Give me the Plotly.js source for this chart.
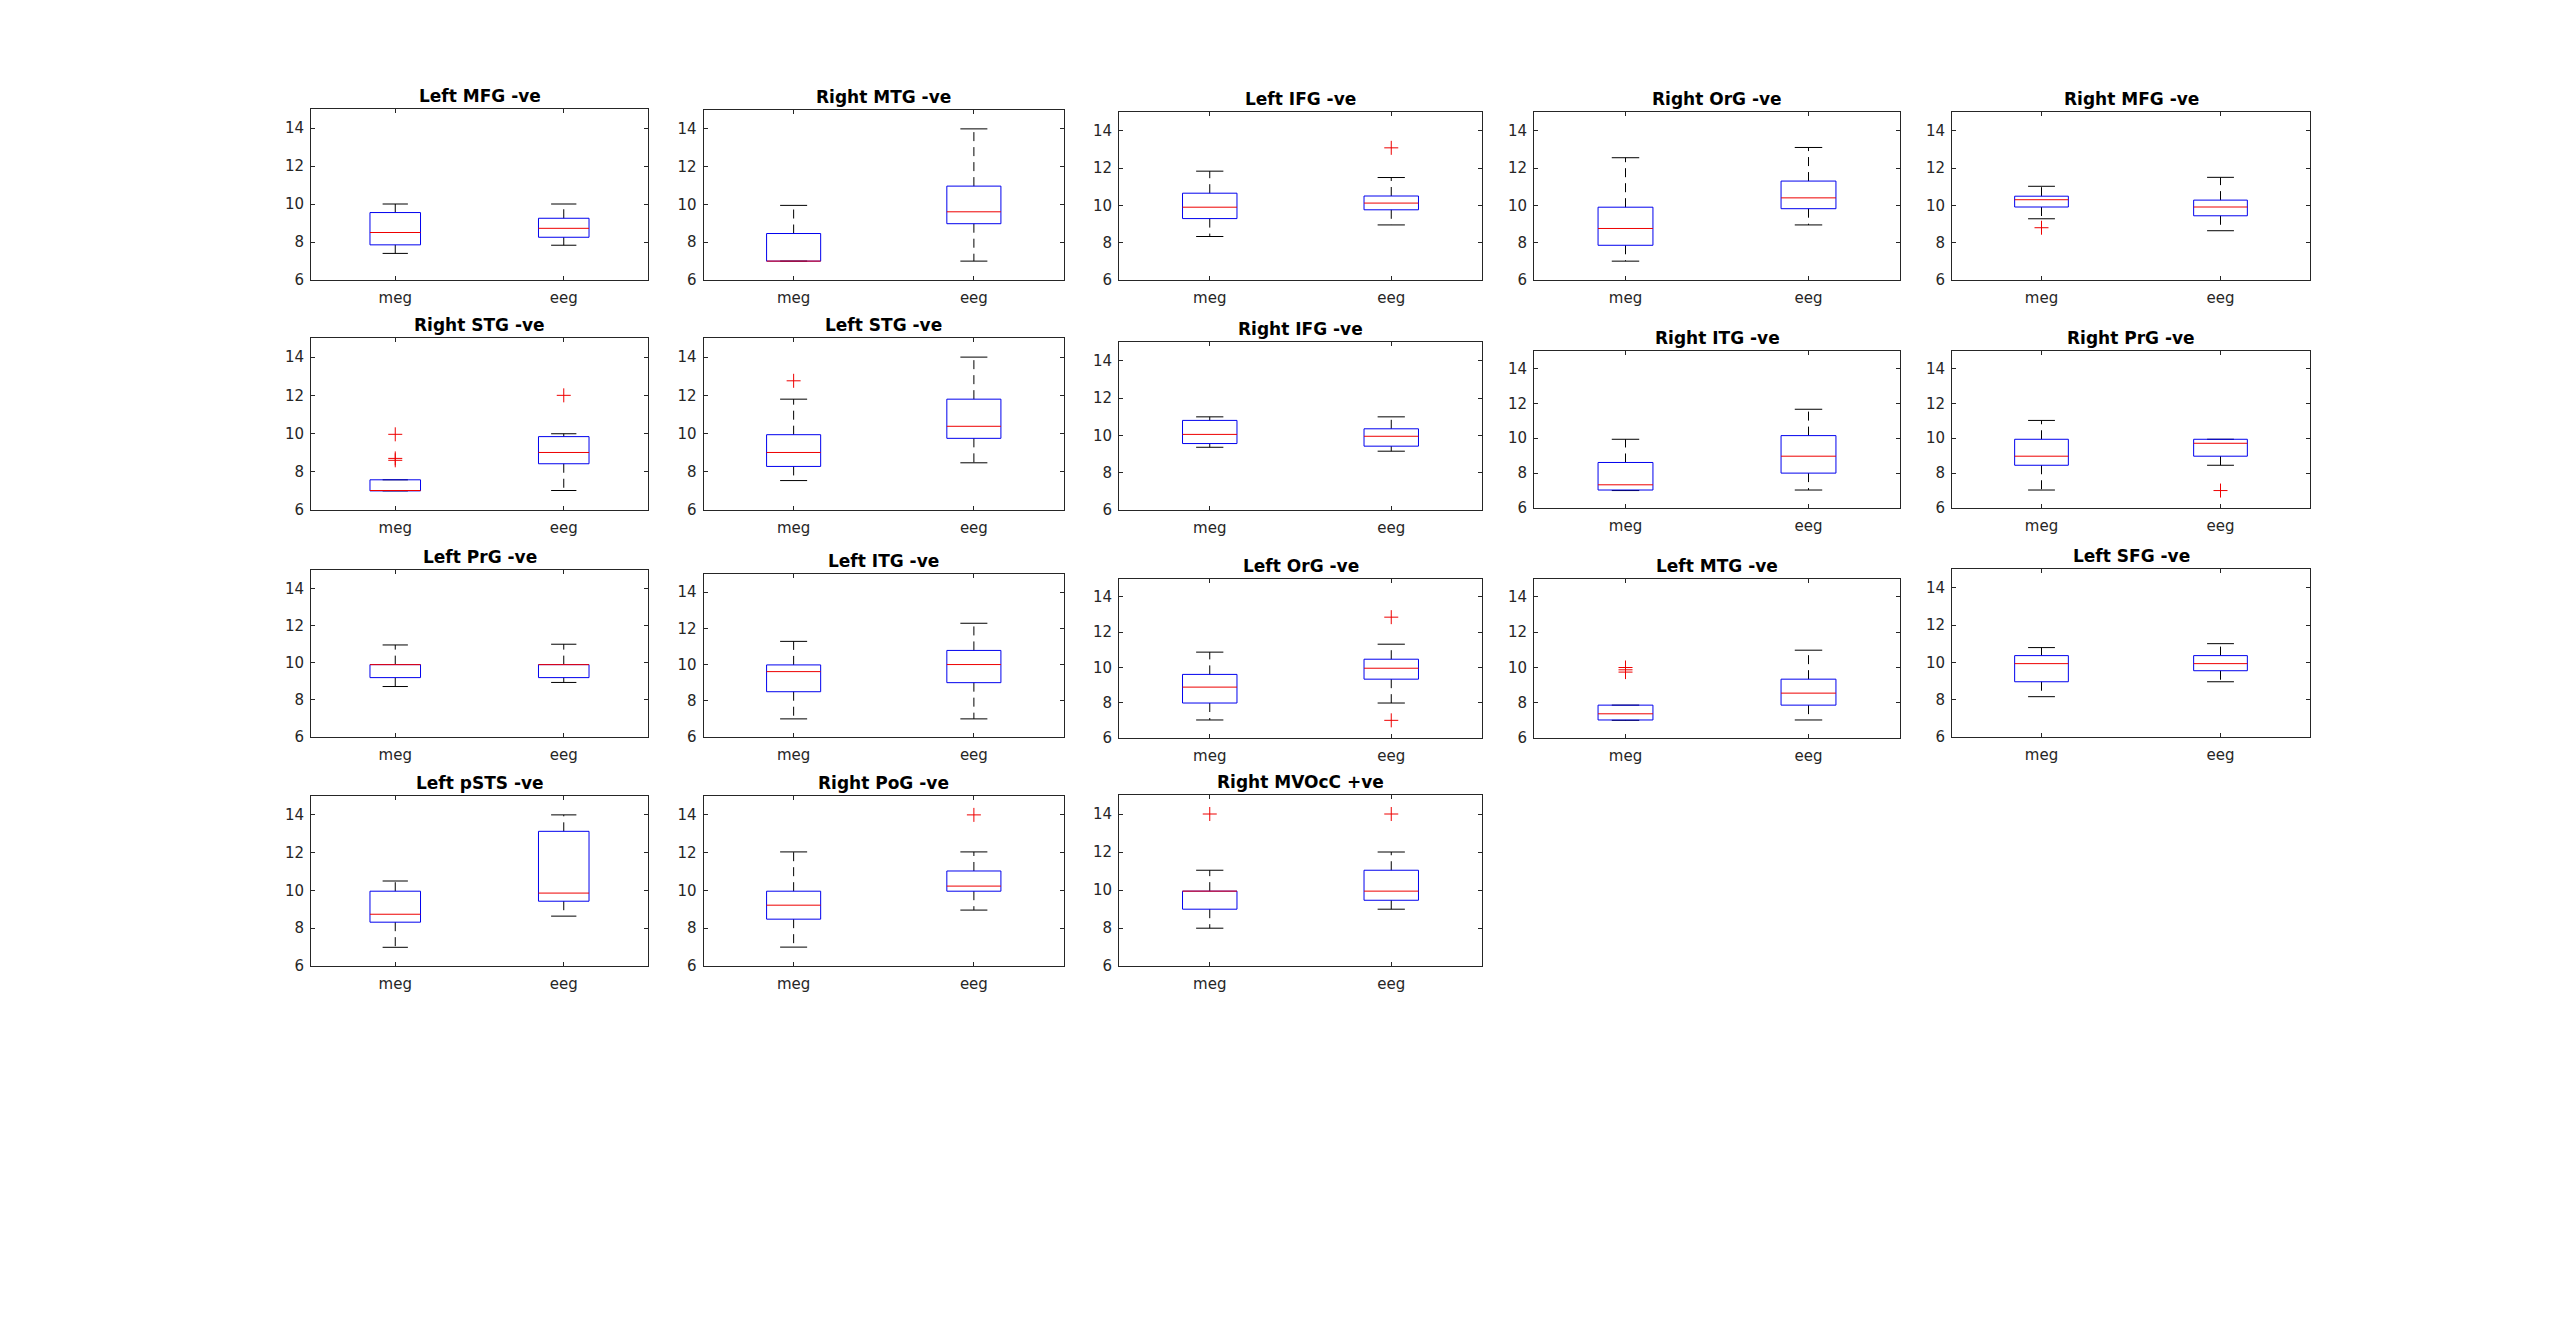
<!DOCTYPE html>
<html>
<head>
<meta charset="utf-8">
<script src="https://cdn.plot.ly/plotly-3.0.1.min.js"></script>
<style>html,body{margin:0;padding:0;background:#fff;}#chart{width:2560px;height:1325px;}</style>
</head>
<body>
<div id="chart"></div>
<script>
// ---------------- data ----------------
const titles = [
  'Left MFG -ve','Right MTG -ve','Left IFG -ve','Right OrG -ve','Right MFG -ve',
  'Right STG -ve','Left STG -ve','Right IFG -ve','Right ITG -ve','Right PrG -ve',
  'Left PrG -ve','Left ITG -ve','Left OrG -ve','Left MTG -ve','Left SFG -ve',
  'Left pSTS -ve','Right PoG -ve','Right MVOcC +ve'
];
const groups = ['meg','eeg'];
const yTicks = [6, 8, 10, 12, 14];

// meg group: lower whisker, q1, median, q3, upper whisker, outliers
const megLo  = [7.40, 7.00, 8.33, 7.01, 9.28, 7.00, 7.54, 9.36, 7.00, 7.03, 8.72, 7.00, 7.02, 7.00, 8.16, 6.99, 7.00, 7.99];
const megQ1  = [7.85, 7.00, 9.29, 7.86, 9.91, 7.00, 8.28, 9.56, 7.03, 8.45, 9.20, 8.50, 7.98, 7.02, 8.96, 8.32, 8.48, 8.99];
const megMed = [8.50, 7.00, 9.90, 8.76,10.30, 7.02, 9.01,10.05, 7.33, 8.97, 9.90, 9.61, 8.88, 7.37, 9.93, 8.74, 9.22, 9.94];
const megQ3  = [9.55, 8.46,10.65, 9.90,10.49, 7.58, 9.94,10.80, 8.61, 9.94, 9.90, 9.98, 9.60, 7.86,10.36, 9.96, 9.96, 9.94];
const megHi  = [10.0, 9.95,11.83,12.55,11.02, 7.58,11.80,10.99, 9.94,11.02,10.96,11.28,10.86, 7.86,10.79,10.50,12.04,11.04];
const megOut = [[],[],[],[],[8.80],[9.96,8.70,8.60],[12.76],[],[],[],[],[],[],[9.99,9.86,9.73],[],[],[],[14.0]];

// eeg group
const eegLo  = [7.83, 7.00, 8.95, 8.95, 8.64, 7.02, 8.47, 9.15, 7.03, 8.45, 8.94, 7.00, 7.98, 7.02, 8.96, 8.64, 8.96, 8.99];
const eegQ1  = [8.25, 8.98, 9.76, 9.82, 9.44, 8.42, 9.75, 9.42, 8.00, 8.97, 9.20, 9.00, 9.33, 7.86, 9.55, 9.43, 9.96, 9.46];
const eegMed = [8.72, 9.61,10.12,10.40, 9.91, 9.01,10.38, 9.95, 8.97, 9.71, 9.90,10.00, 9.95, 8.54, 9.93, 9.86,10.23, 9.94];
const eegQ3  = [9.25,10.97,10.50,11.30,10.28, 9.84,11.80,10.35,10.15, 9.94, 9.90,10.78,10.46, 9.33,10.36,13.13,11.03,11.04];
const eegHi  = [10.0,14.00,11.49,13.10,11.50, 9.99,14.00,10.99,11.66, 9.94,11.00,12.28,11.31,10.97,11.00,14.00,12.04,12.00];
const eegOut = [[],[],[13.08],[],[],[12.0],[],[],[],[7.0],[],[],[12.84,7.0],[],[],[],[14.0],[14.0]];

// ---------------- layout geometry (pixels: left, right, top, bottom) ----------------
const W = 2560, H = 1325;
const panelPx = [
  [311,648,109,280],[703.5,1064,110,280],[1119,1482,112,280],[1534,1900,112,280],[1952,2310,112,280],
  [311,648,338,510],[703.5,1064,338,510],[1119,1482,342,510],[1534,1900,351,508],[1952,2310,351,508],
  [311,648,570,737],[703.5,1064,574,737],[1119,1482,579,738],[1534,1900,579,738],[1952,2310,569,737],
  [311,648,796,966],[703.5,1064,796,966],[1119,1482,795,966]
];
const boxHalf = 0.15, capHalf = 0.075;
const BLUE = '#0000ee', RED = '#ee0000', BLACK = '#000000', AX = '#262626';

const stats = [
  {lo: megLo, q1: megQ1, med: megMed, q3: megQ3, hi: megHi, out: megOut},
  {lo: eegLo, q1: eegQ1, med: eegMed, q3: eegQ3, hi: eegHi, out: eegOut}
];

const traces = [];
const layout = {
  width: W, height: H,
  margin: {l: 0, r: 0, t: 0, b: 0},
  paper_bgcolor: '#ffffff', plot_bgcolor: '#ffffff',
  showlegend: false,
  annotations: []
};

titles.forEach((title, p) => {
  const n = p + 1;
  const xa = n === 1 ? 'x' : 'x' + n;
  const ya = n === 1 ? 'y' : 'y' + n;
  const [L, R, T, B] = panelPx[p];

  const wx = [], wy = [], cx = [], cy = [], bx = [], by = [], mx = [], my = [], ox = [], oy = [];
  stats.forEach((s, g) => {
    const pos = g + 1;
    wx.push(pos, pos, null, pos, pos, null);
    wy.push(s.q3[p], s.hi[p], null, s.q1[p], s.lo[p], null);
    cx.push(pos - capHalf, pos + capHalf, null, pos - capHalf, pos + capHalf, null);
    cy.push(s.hi[p], s.hi[p], null, s.lo[p], s.lo[p], null);
    bx.push(pos - boxHalf, pos + boxHalf, pos + boxHalf, pos - boxHalf, pos - boxHalf, null);
    by.push(s.q1[p], s.q1[p], s.q3[p], s.q3[p], s.q1[p], null);
    mx.push(pos - boxHalf, pos + boxHalf, null);
    my.push(s.med[p], s.med[p], null);
    s.out[p].forEach(v => { ox.push(pos); oy.push(v); });
  });

  const common = {xaxis: xa, yaxis: ya, hoverinfo: 'skip', showlegend: false, cliponaxis: false};
  traces.push(Object.assign({type: 'scatter', mode: 'lines', x: wx, y: wy,
    line: {color: BLACK, width: 1, dash: '9px,6px'}}, common));
  traces.push(Object.assign({type: 'scatter', mode: 'lines', x: cx, y: cy,
    line: {color: BLACK, width: 1}}, common));
  traces.push(Object.assign({type: 'scatter', mode: 'lines', x: bx, y: by,
    line: {color: BLUE, width: 1}}, common));
  traces.push(Object.assign({type: 'scatter', mode: 'lines', x: mx, y: my,
    line: {color: RED, width: 1}}, common));
  if (ox.length) {
    traces.push(Object.assign({type: 'scatter', mode: 'markers', x: ox, y: oy,
      marker: {symbol: 'cross-thin', size: 10, color: RED, line: {color: RED, width: 1}}}, common));
  }

  const axCommon = {
    showline: true, linecolor: AX, linewidth: 1, mirror: 'ticks',
    ticks: 'inside', ticklen: 4, tickcolor: AX, tickwidth: 1,
    showgrid: false, zeroline: false, fixedrange: true,
    tickfont: {family: 'DejaVu Sans', size: 15, color: AX}
  };
  layout[n === 1 ? 'xaxis' : 'xaxis' + n] = Object.assign({
    domain: [L / W, R / W], anchor: ya, range: [0.5, 2.5],
    tickmode: 'array', tickvals: [1, 2], ticktext: groups, ticklabelstandoff: 4
  }, axCommon);
  layout[n === 1 ? 'yaxis' : 'yaxis' + n] = Object.assign({
    domain: [1 - B / H, 1 - T / H], anchor: xa, range: [6, 15],
    tickmode: 'array', tickvals: yTicks, ticktext: yTicks.map(String), ticklabelstandoff: 3
  }, axCommon);

  layout.annotations.push({
    text: title, showarrow: false,
    xref: 'paper', yref: 'paper',
    x: (L + R) / 2 / W, y: 1 - T / H,
    xanchor: 'center', yanchor: 'bottom', yshift: 1,
    font: {family: 'DejaVu Sans', size: 17, weight: 'bold', color: '#000000'}
  });
});

Plotly.newPlot('chart', traces, layout, {displayModeBar: false, staticPlot: true});
</script>
</body>
</html>
